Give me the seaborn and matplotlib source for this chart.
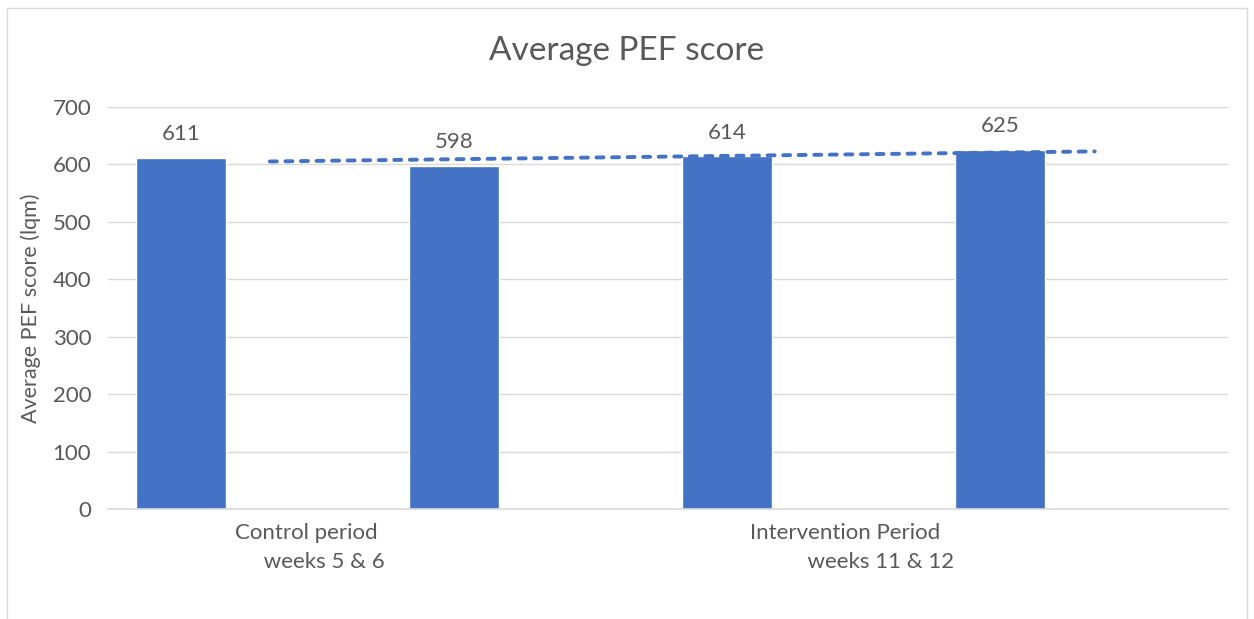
import numpy as np
import pandas as pd
import matplotlib.pyplot as plt
import seaborn as sns
from matplotlib.patches import Rectangle

# Data
slots = ['Control wk5', 'Control wk6', 'Intervention wk11', 'Intervention wk12']
pef_scores = [611, 598, 614, 625]
group_labels = ['Control period\n     weeks 5 & 6', 'Intervention Period\n          weeks 11 & 12']
y_ticks = [0, 100, 200, 300, 400, 500, 600, 700]

bar_color = '#4472C4'
text_color = '#595959'

sns.set_theme(style='white')
plt.rcParams['font.family'] = ['Lato', 'DejaVu Sans']

df = pd.DataFrame({'slot': slots, 'score': pef_scores})

fig = plt.figure(figsize=(12.54, 6.19), dpi=100)
ax = fig.add_axes([0.0861, 0.1777, 0.8929, 0.6494])

sns.barplot(data=df, x='slot', y='score', order=slots, color=bar_color,
            width=0.33, saturation=1, ax=ax, zorder=2)

# Data labels
ax.bar_label(ax.containers[0], labels=[str(v) for v in pef_scores],
             padding=10, fontsize=16, color=text_color)

# Linear trend line (dashed)
xs = np.arange(len(pef_scores))
slope, intercept = np.polyfit(xs, pef_scores, 1)
tx = np.array([0.326, 3.348])
ax.plot(tx, slope * tx + intercept, color=bar_color, lw=2.8,
        ls=(0, (1.8, 2.2)), dash_capstyle='round', zorder=3)

ax.set_ylim(0, 700)
ax.set_yticks(y_ticks)
ax.set_xlim(-0.267, 3.835)
ax.yaxis.grid(True, color='#D9D9D9', lw=1, zorder=0)
ax.set_axisbelow(True)

# group labels sit under each pair of bars, left-aligned lines like the original
ax.set_xticks([0.473, 2.46])
ax.set_xticklabels(group_labels, fontsize=16, color=text_color,
                   multialignment='left', linespacing=1.55)
ax.tick_params(axis='x', length=0, pad=10)
ax.tick_params(axis='y', length=0, labelsize=16, labelcolor=text_color, pad=12)
ax.set_xlabel('')
ax.set_ylabel('Average PEF score (lqm)', fontsize=15.5, color=text_color, labelpad=8)

for side in ['left', 'right', 'top']:
    ax.spines[side].set_visible(False)
ax.spines['bottom'].set_color('#D9D9D9')
ax.spines['bottom'].set_linewidth(1.2)

fig.text(0.5, 0.918, 'Average PEF score', ha='center', va='center',
         fontsize=24, color=text_color)

# Light chart-area border
fig.patches.append(Rectangle((7 / 1254, -0.01), 1240 / 1254, 1 - 8 / 619 + 0.01,
                             transform=fig.transFigure, fill=False,
                             edgecolor='#D9D9D9', lw=1))

fig.savefig('out.png', dpi=100)
